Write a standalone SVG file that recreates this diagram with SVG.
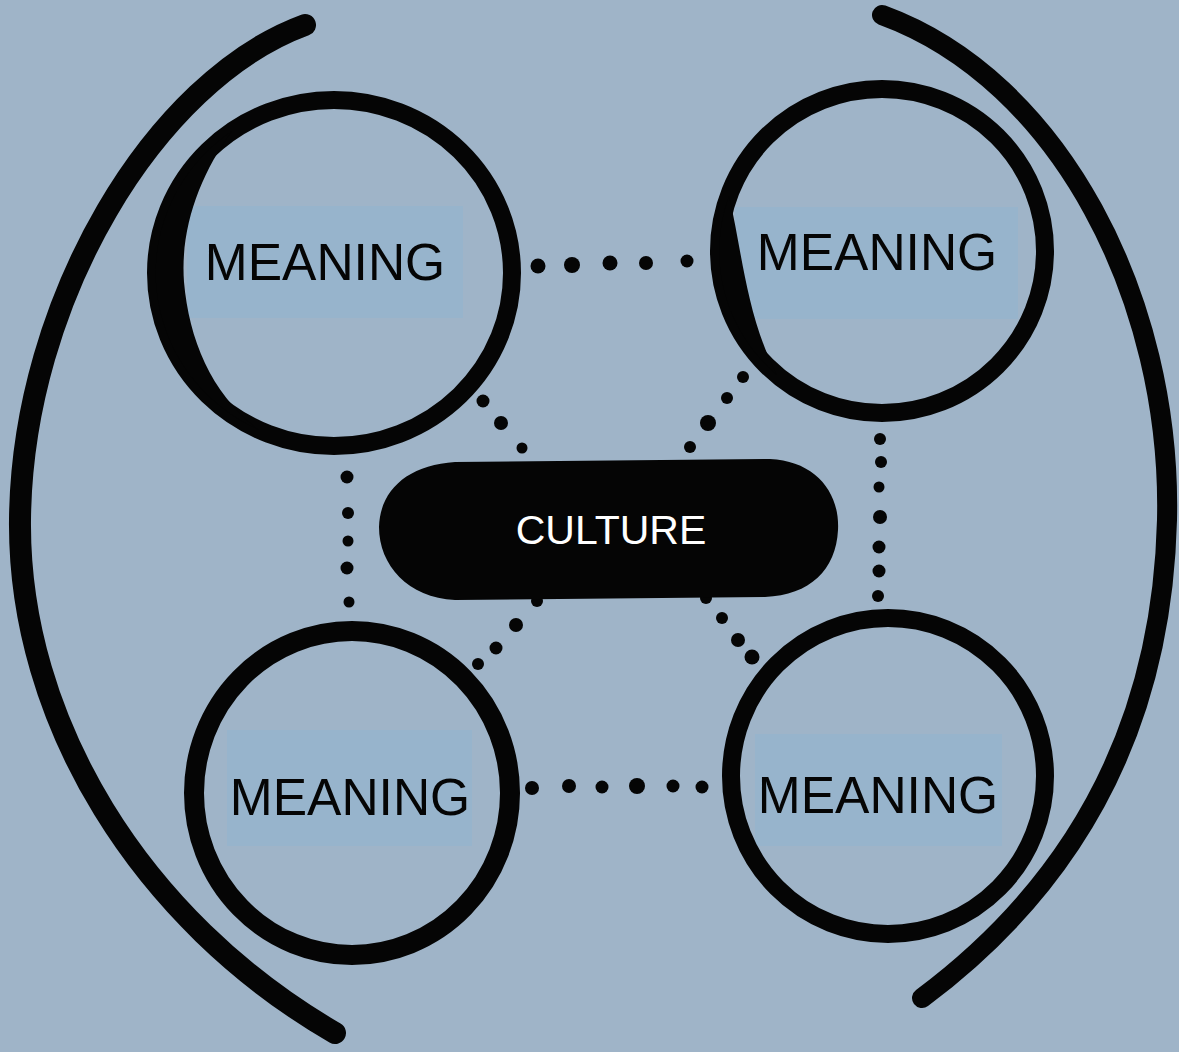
<svg xmlns="http://www.w3.org/2000/svg" width="1179" height="1052" viewBox="0 0 1179 1052">
  <style>
    .ring { fill: none; stroke: #050505; stroke-linecap: round; stroke-linejoin: round; }
    .ink { fill: #050505; }
    .labelbg { fill: #97b4cc; }
    .label { font-family: "Liberation Sans", Arial, sans-serif; font-size: 51.5px; fill: #050505; text-anchor: middle; }
    .culture { font-family: "Liberation Sans", Arial, sans-serif; font-size: 41px; fill: #ffffff; text-anchor: middle; }
    .dot { fill: #050505; }
  </style>
  <rect x="0" y="0" width="1179" height="1052" fill="#9fb4c8"/>

  <g id="outer-arcs">
    <path class="ring" stroke-width="22" d="M 305 25 C 155 80, 22 300, 20 520 C 18 720, 140 920, 335 1033"/>
    <path class="ring" stroke-width="20" d="M 882 15 C 1060 80, 1172 300, 1167 520 C 1162 720, 1080 880, 922 998"/>
  </g>

  <g id="connectors">
    <!-- top row -->
    <circle class="dot" cx="538" cy="266" r="7.5"/>
    <circle class="dot" cx="572" cy="265" r="8"/>
    <circle class="dot" cx="610" cy="263" r="7.5"/>
    <circle class="dot" cx="646" cy="263" r="7"/>
    <circle class="dot" cx="687" cy="261" r="6.5"/>
    <!-- bottom row -->
    <circle class="dot" cx="532" cy="788" r="7"/>
    <circle class="dot" cx="569" cy="786" r="7"/>
    <circle class="dot" cx="602" cy="787" r="6.5"/>
    <circle class="dot" cx="637" cy="786" r="8"/>
    <circle class="dot" cx="673" cy="786" r="6.5"/>
    <circle class="dot" cx="702" cy="787" r="6.5"/>
    <!-- left vertical -->
    <circle class="dot" cx="347" cy="477" r="6.5"/>
    <circle class="dot" cx="348" cy="513" r="6"/>
    <circle class="dot" cx="348" cy="541" r="5.5"/>
    <circle class="dot" cx="347" cy="568" r="6.5"/>
    <circle class="dot" cx="349" cy="602" r="5.5"/>
    <!-- right vertical -->
    <circle class="dot" cx="880" cy="439" r="6"/>
    <circle class="dot" cx="881" cy="462" r="6"/>
    <circle class="dot" cx="879" cy="487" r="5.5"/>
    <circle class="dot" cx="880" cy="517" r="7"/>
    <circle class="dot" cx="879" cy="547" r="6.5"/>
    <circle class="dot" cx="879" cy="571" r="6.5"/>
    <circle class="dot" cx="878" cy="596" r="6"/>
    <!-- TL diagonal -->
    <circle class="dot" cx="483" cy="401" r="6.5"/>
    <circle class="dot" cx="501" cy="423" r="7"/>
    <circle class="dot" cx="522" cy="448" r="5.5"/>
    <!-- TR diagonal -->
    <circle class="dot" cx="743" cy="377" r="6"/>
    <circle class="dot" cx="727" cy="398" r="6"/>
    <circle class="dot" cx="708" cy="423" r="8"/>
    <circle class="dot" cx="690" cy="447" r="6"/>
    <!-- BL diagonal -->
    <circle class="dot" cx="537" cy="601" r="6"/>
    <circle class="dot" cx="516" cy="625" r="7"/>
    <circle class="dot" cx="496" cy="648" r="6.5"/>
    <circle class="dot" cx="478" cy="664" r="6"/>
    <!-- BR diagonal -->
    <circle class="dot" cx="706" cy="598" r="6"/>
    <circle class="dot" cx="722" cy="618" r="6"/>
    <circle class="dot" cx="738" cy="640" r="7"/>
    <circle class="dot" cx="752" cy="657" r="7.5"/>
  </g>

  <g id="meaning-tl">
    <rect class="labelbg" x="187" y="206" width="276" height="112"/>
    <ellipse class="ring" cx="334" cy="273" rx="178" ry="173" stroke-width="18"/>
    <path class="ink" d="M 232 131 C 200 175, 180 228, 184 282 C 189 340, 212 395, 259 430 A 178 173 0 0 1 232 131 Z"/>
    <text class="label" x="325" y="280">MEANING</text>
  </g>

  <g id="meaning-tr">
    <rect class="labelbg" x="735" y="207" width="283" height="112"/>
    <ellipse class="ring" cx="882" cy="251" rx="163" ry="162" stroke-width="18"/>
    <path class="ink" d="M 729 196 C 742 250, 746 315, 777 375 A 163 162 0 0 1 729 196 Z"/>
    <text class="label" x="877" y="270">MEANING</text>
  </g>

  <g id="meaning-bl">
    <rect class="labelbg" x="227" y="730" width="245" height="116"/>
    <ellipse class="ring" cx="352" cy="793" rx="158" ry="162" stroke-width="20"/>
    <text class="label" x="350" y="815">MEANING</text>
  </g>

  <g id="meaning-br">
    <rect class="labelbg" x="755" y="734" width="247" height="112"/>
    <ellipse class="ring" cx="888" cy="776" rx="157" ry="158" stroke-width="18"/>
    <text class="label" x="878" y="813">MEANING</text>
  </g>

  <g id="culture">
    <path class="ink" d="M 455 462 L 770 459 C 815 461, 840 492, 838 530 C 836 570, 810 595, 765 597 L 455 600 C 408 598, 379 565, 379 527 C 380 490, 408 465, 455 462 Z"/>
    <text class="culture" x="611" y="544">CULTURE</text>
  </g>
</svg>
